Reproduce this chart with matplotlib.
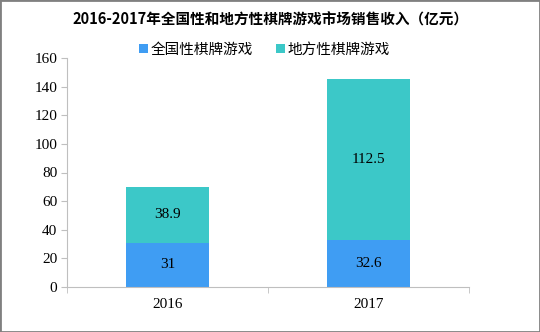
import matplotlib
matplotlib.use("Agg")
import matplotlib.pyplot as plt
from matplotlib.patches import Rectangle

plt.rcParams["font.family"] = ["Noto Sans CJK SC", "DejaVu Sans"]

# 数据
years = ["2016", "2017"]
national = [31, 32.6]
local = [38.9, 112.5]
series_names = ["全国性棋牌游戏", "地方性棋牌游戏"]
title = "2016-2017年全国性和地方性棋牌游戏市场销售收入（亿元）"

blue = "#3F9DF3"
teal = "#3CC8C8"
axis_gray = "#BFBFBF"
num_font = ["Liberation Serif", "DejaVu Serif"]

fig = plt.figure(figsize=(5.4, 3.32), dpi=100)
ax = fig.add_axes([67 / 540, 1 - 287 / 332, 402 / 540, 229 / 332])

x = range(len(years))
b1 = ax.bar(x, national, width=0.41, color=blue, label=series_names[0])
b2 = ax.bar(x, local, width=0.41, bottom=national, color=teal, label=series_names[1])

for i in x:
    ax.text(i, national[i] / 2, f"{national[i]:g}", ha="center", va="center",
            fontsize=11, family=num_font)
    ax.text(i, national[i] + local[i] / 2, f"{local[i]:g}", ha="center", va="center",
            fontsize=11, family=num_font)

ax.set_xlim(-0.5, 1.5)
ax.set_ylim(0, 160)
ax.set_yticks(range(0, 161, 20))
ax.set_xticks(list(x))
ax.set_xticklabels(years)
ax.set_xticks([-0.5, 0.5, 1.5], minor=True)
ax.tick_params(axis="x", which="major", length=0, pad=8)
ax.tick_params(axis="x", which="minor", length=4, color=axis_gray)
ax.tick_params(axis="y", length=4, color=axis_gray, pad=3)
for lbl in ax.get_xticklabels() + ax.get_yticklabels():
    lbl.set_family(num_font)
    lbl.set_fontsize(11)

for side in ["top", "right"]:
    ax.spines[side].set_visible(False)
for side in ["left", "bottom"]:
    ax.spines[side].set_color(axis_gray)

fig.text(0.5, 1 - 20 / 332, title, ha="center", va="center", fontsize=10.5, fontweight="bold")
fig.legend(handles=[b1, b2], loc="center", bbox_to_anchor=(0.49, 1 - 50 / 332), ncol=2,
           frameon=False, fontsize=10.5, handlelength=0.6, handleheight=0.6,
           handletextpad=0.2, columnspacing=1.6)

# 外框
fig.patches.append(Rectangle((0, 0), 1, 1, transform=fig.transFigure, fill=False,
                             edgecolor="#808080", linewidth=2))

fig.savefig("out.png", dpi=100)
